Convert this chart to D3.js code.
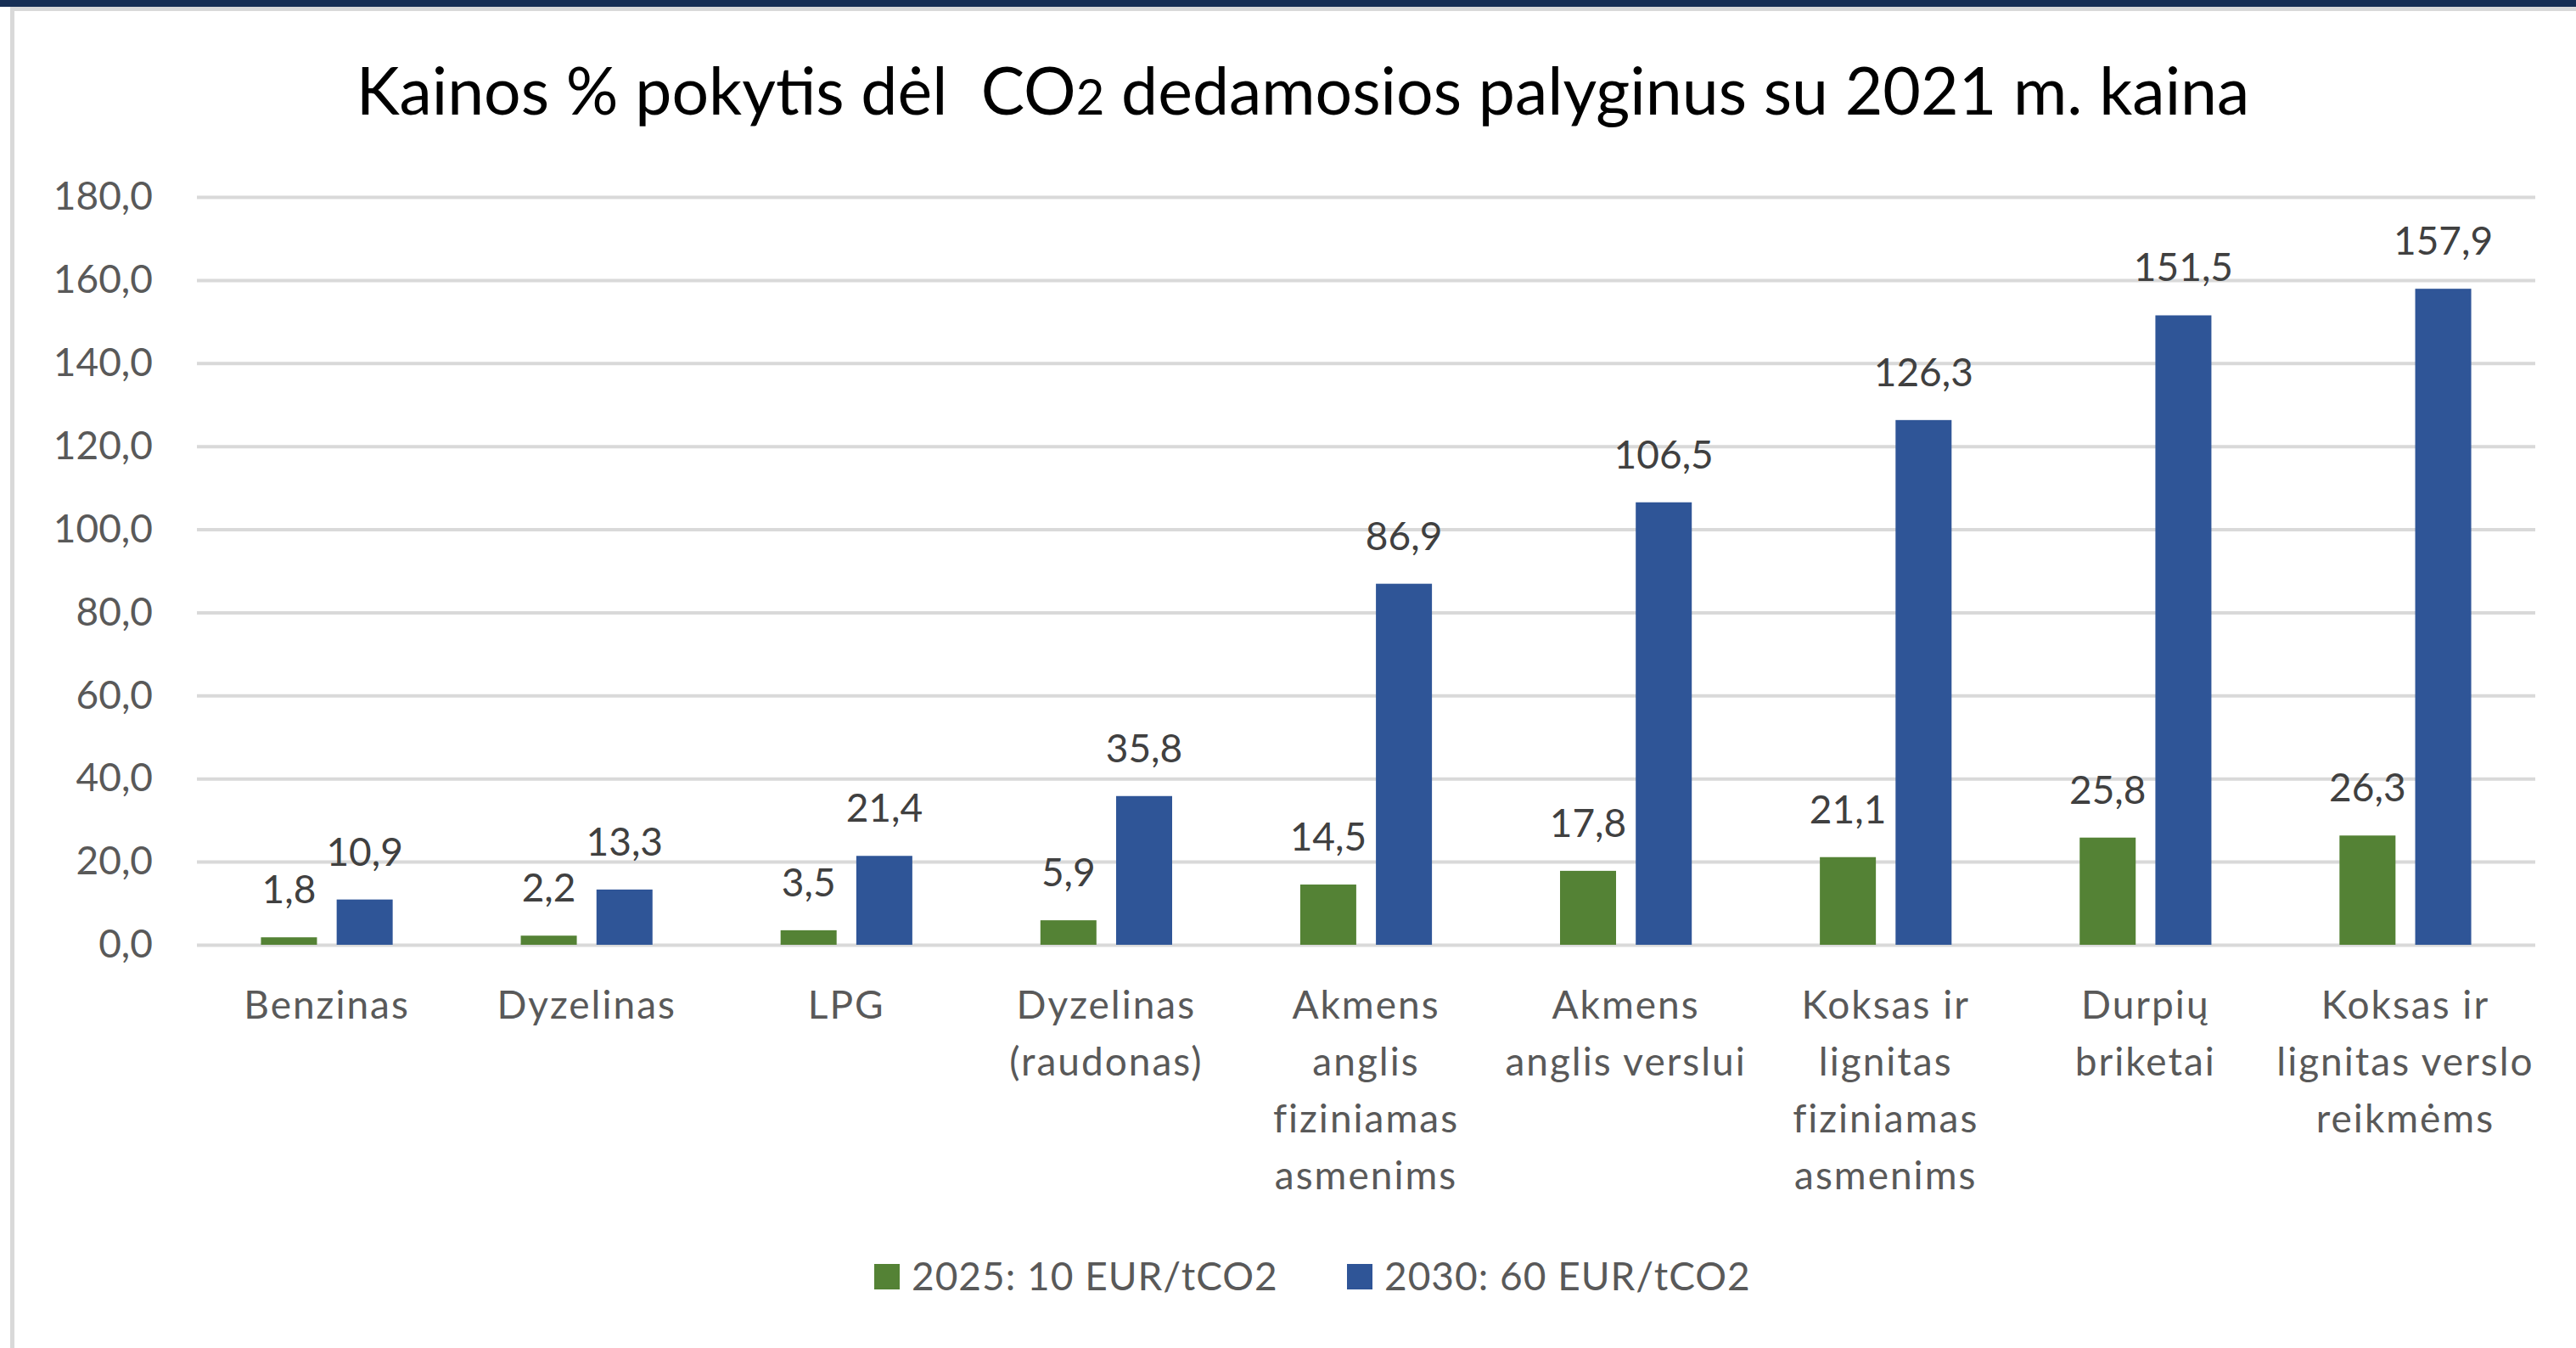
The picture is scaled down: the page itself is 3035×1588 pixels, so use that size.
<!DOCTYPE html>
<html>
<head>
<meta charset="utf-8">
<script src="https://cdn.jsdelivr.net/npm/d3@7"></script>
<style>
  html, body { margin: 0; padding: 0; background: #fff; }
  svg { display: block; }
</style>
</head>
<body>
<div id="chart"></div>
<script>
// duomenys
const categories = [
  ["Benzinas"],
  ["Dyzelinas"],
  ["LPG"],
  ["Dyzelinas", "(raudonas)"],
  ["Akmens", "anglis", "fiziniamas", "asmenims"],
  ["Akmens", "anglis verslui"],
  ["Koksas ir", "lignitas", "fiziniamas", "asmenims"],
  ["Durpių", "briketai"],
  ["Koksas ir", "lignitas verslo", "reikmėms"]
];
const seriesNames = ["2025: 10 EUR/tCO2", "2030: 60 EUR/tCO2"];
const values2025 = [1.8, 2.2, 3.5, 5.9, 14.5, 17.8, 21.1, 25.8, 26.3];
const values2030 = [10.9, 13.3, 21.4, 35.8, 86.9, 106.5, 126.3, 151.5, 157.9];
const yTicks = [0, 20, 40, 60, 80, 100, 120, 140, 160, 180];
const colors = ["#548235", "#2F5597"];

const width = 3035;
const height = 1588;
const font = "Lato, 'Open Sans', sans-serif";
const fmt = v => d3.format(".1f")(v).replace(".", ",");

const svg = d3.select("#chart")
  .append("svg")
  .attr("width", width)
  .attr("height", height)
  .attr("viewBox", [0, 0, width, height]);

// rėmelis
svg.append("rect").attr("x", 0).attr("y", 0).attr("width", width).attr("height", 8).attr("fill", "#172F55");
svg.append("rect").attr("x", 12).attr("y", 8).attr("width", width - 12).attr("height", 5).attr("fill", "#D9D9D9");
svg.append("rect").attr("x", 12).attr("y", 8).attr("width", 5).attr("height", height).attr("fill", "#D9D9D9");

// pavadinimas
const title = svg.append("text")
  .attr("x", 1535)
  .attr("y", 135)
  .attr("text-anchor", "middle")
  .attr("font-family", font)
  .attr("font-size", 77)
  .attr("fill", "#000");
title.append("tspan").text("Kainos % pokytis dėl\u00A0 CO");
title.append("tspan").attr("font-size", 58).text("2");
title.append("tspan").text(" dedamosios palyginus su 2021 m. kaina");

const plotLeft = 232, plotRight = 2987, plotTop = 232, plotBottom = 1113;

const x = d3.scaleBand()
  .domain(d3.range(categories.length))
  .range([plotLeft, plotRight])
  .padding(0);

const groupW = x.bandwidth() * 0.507;
const x1 = d3.scaleBand()
  .domain([0, 1])
  .range([(x.bandwidth() - groupW) / 2, (x.bandwidth() + groupW) / 2])
  .paddingInner(0.26);

const y = d3.scaleLinear().domain([0, 180]).range([plotBottom, plotTop]);

// ašis Y su tinkleliu
const yAxis = svg.append("g")
  .attr("transform", `translate(${plotLeft},0)`)
  .call(d3.axisLeft(y).tickValues(yTicks).tickSize(-(plotRight - plotLeft)).tickPadding(52).tickFormat(fmt));
yAxis.select(".domain").remove();
yAxis.selectAll(".tick line").attr("stroke", "#D9D9D9").attr("stroke-width", 4);
yAxis.selectAll(".tick text")
  .attr("font-family", font)
  .attr("font-size", 46)
  .attr("fill", "#595959");

// stulpeliai
const rows = categories.map((c, i) => ({ i, vals: [values2025[i], values2030[i]] }));

const groups = svg.append("g")
  .selectAll("g")
  .data(rows)
  .join("g")
  .attr("transform", d => `translate(${x(d.i)},0)`);

groups.selectAll("rect")
  .data(d => d.vals.map((v, s) => ({ v, s })))
  .join("rect")
  .attr("x", d => x1(d.s))
  .attr("width", x1.bandwidth())
  .attr("y", d => y(d.v))
  .attr("height", d => y(0) - y(d.v))
  .attr("fill", d => colors[d.s]);

groups.selectAll("text.val")
  .data(d => d.vals.map((v, s) => ({ v, s })))
  .join("text")
  .attr("class", "val")
  .attr("x", d => x1(d.s) + x1.bandwidth() / 2)
  .attr("y", d => y(d.v) - 40)
  .attr("text-anchor", "middle")
  .attr("font-family", font)
  .attr("font-size", 46)
  .attr("fill", "#404040")
  .text(d => fmt(d.v));

// kategorijų pavadinimai
const xl = svg.append("g")
  .selectAll("text")
  .data(categories)
  .join("text")
  .attr("x", (d, i) => x(i) + x.bandwidth() / 2)
  .attr("y", 1200)
  .attr("text-anchor", "middle")
  .attr("font-family", font)
  .attr("font-size", 46)
  .attr("letter-spacing", 2)
  .attr("fill", "#595959");
xl.selectAll("tspan")
  .data((d, i) => d.map(t => ({ t, i })))
  .join("tspan")
  .attr("x", d => x(d.i) + x.bandwidth() / 2)
  .attr("dy", (d, k) => k === 0 ? 0 : 67)
  .text(d => d.t);

// legenda
const legendX = [1030, 1587];
const legend = svg.append("g")
  .selectAll("g")
  .data(seriesNames)
  .join("g")
  .attr("transform", (d, i) => `translate(${legendX[i]},1504)`);
legend.append("rect")
  .attr("x", 0).attr("y", -15).attr("width", 30).attr("height", 30)
  .attr("fill", (d, i) => colors[i]);
legend.append("text")
  .attr("x", 44)
  .attr("y", 16)
  .attr("font-family", font)
  .attr("font-size", 46)
  .attr("letter-spacing", 1)
  .attr("fill", "#595959")
  .text(d => d);
</script>
</body>
</html>
